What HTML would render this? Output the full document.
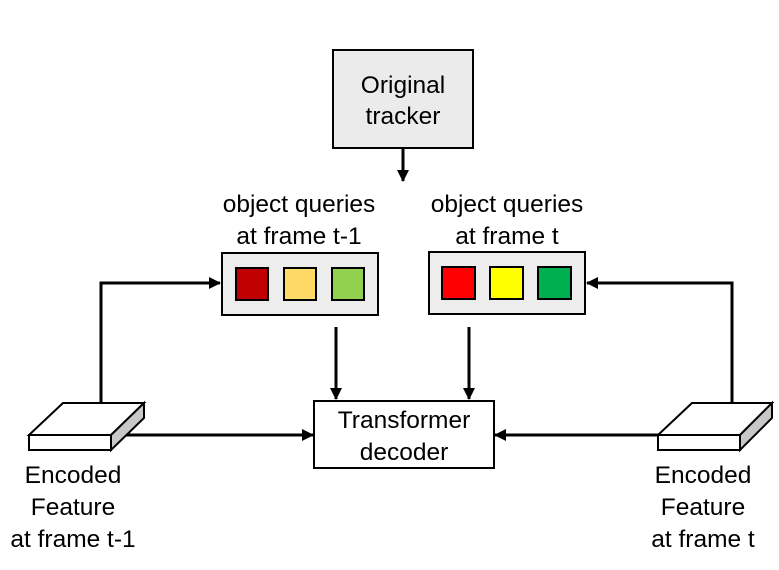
<!DOCTYPE html>
<html><head><meta charset="utf-8"><style>
html,body{margin:0;padding:0;background:#fff;}
svg{display:block;}
text{font-family:"Liberation Sans",sans-serif;font-size:24.5px;fill:#000;text-anchor:middle;}
</style></head><body>
<svg width="779" height="570" viewBox="0 0 779 570" xmlns="http://www.w3.org/2000/svg">
<defs>
<marker id="ah" markerWidth="12" markerHeight="12" refX="11" refY="6" orient="auto" markerUnits="userSpaceOnUse">
<path d="M0,0 L12,6 L0,12 z" fill="#000"/>
</marker>
</defs>
<rect x="333" y="50" width="140" height="98" fill="#ebebeb" stroke="#000" stroke-width="2"/>
<text x="403" y="93">Original</text>
<text x="403" y="124">tracker</text>
<line x1="403" y1="148" x2="403" y2="181" stroke="#000" stroke-width="3" marker-end="url(#ah)"/>

<text x="299" y="212">object queries</text>
<text x="299" y="244">at frame t-1</text>
<text x="507" y="212">object queries</text>
<text x="507" y="244">at frame t</text>

<rect x="222" y="253" width="156" height="62" fill="#ededed" stroke="#000" stroke-width="2"/>
<rect x="236" y="268" width="32" height="32" fill="#c00000" stroke="#000" stroke-width="2"/>
<rect x="284" y="268" width="32" height="32" fill="#ffd966" stroke="#000" stroke-width="2"/>
<rect x="332" y="268" width="32" height="32" fill="#92d050" stroke="#000" stroke-width="2"/>

<rect x="429" y="252" width="156" height="62" fill="#ededed" stroke="#000" stroke-width="2"/>
<rect x="442" y="267" width="33" height="32" fill="#ff0000" stroke="#000" stroke-width="2"/>
<rect x="490" y="267" width="33" height="32" fill="#ffff00" stroke="#000" stroke-width="2"/>
<rect x="538" y="267" width="33" height="32" fill="#00b050" stroke="#000" stroke-width="2"/>

<line x1="336" y1="327" x2="336" y2="399" stroke="#000" stroke-width="3" marker-end="url(#ah)"/>
<line x1="469" y1="327" x2="469" y2="399" stroke="#000" stroke-width="3" marker-end="url(#ah)"/>

<rect x="314" y="401" width="180" height="67" fill="#fff" stroke="#000" stroke-width="2"/>
<text x="404" y="428">Transformer</text>
<text x="404" y="460">decoder</text>

<polyline points="101,403 101,283 220,283" fill="none" stroke="#000" stroke-width="3" marker-end="url(#ah)"/>
<line x1="120" y1="435" x2="313" y2="435" stroke="#000" stroke-width="3" marker-end="url(#ah)"/>
<polyline points="732,403 732,283 587,283" fill="none" stroke="#000" stroke-width="3" marker-end="url(#ah)"/>
<line x1="660" y1="435" x2="495" y2="435" stroke="#000" stroke-width="3" marker-end="url(#ah)"/>

<polygon points="29,435 63,403 144,403 111,435" fill="#fff" stroke="#000" stroke-width="2"/>
<polygon points="111,435 144,403 144,418 111,450" fill="#c8c8c8" stroke="#000" stroke-width="2"/>
<rect x="29" y="435" width="82" height="15" fill="#fff" stroke="#000" stroke-width="2"/>
<polygon points="658,435 692,403 772,403 740,435" fill="#fff" stroke="#000" stroke-width="2"/>
<polygon points="740,435 772,403 772,418 740,450" fill="#c8c8c8" stroke="#000" stroke-width="2"/>
<rect x="658" y="435" width="82" height="15" fill="#fff" stroke="#000" stroke-width="2"/>

<text x="73" y="483">Encoded</text>
<text x="73" y="515">Feature</text>
<text x="73" y="547">at frame t-1</text>
<text x="703" y="483">Encoded</text>
<text x="703" y="515">Feature</text>
<text x="703" y="547">at frame t</text>
</svg>
</body></html>
